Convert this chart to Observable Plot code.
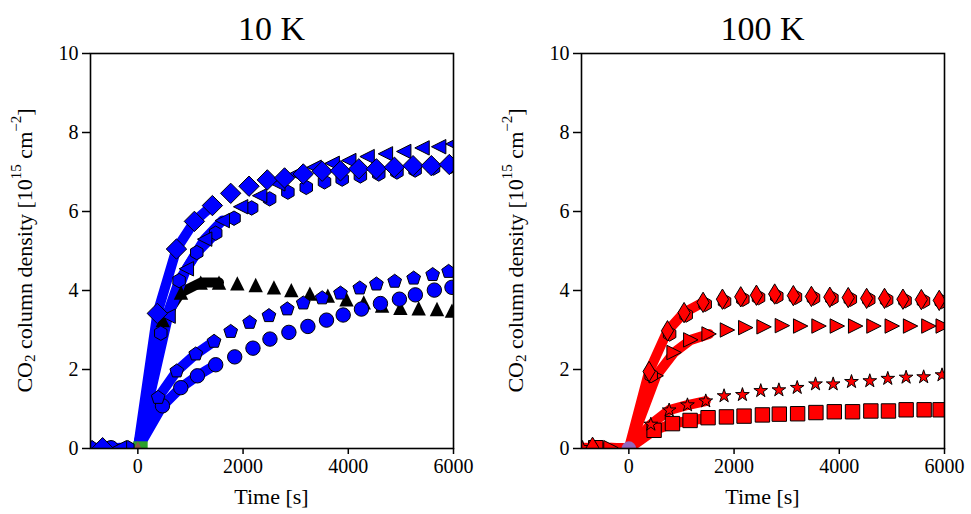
<!DOCTYPE html>
<html><head><meta charset="utf-8">
<script src="https://cdn.jsdelivr.net/npm/d3@7"></script>
<script src="https://cdn.jsdelivr.net/npm/@observablehq/plot@0.6"></script>
<style>
body{margin:0;background:#fff;}
#chart{position:relative;width:971px;height:514px;background:#fff;}
#chart svg{position:absolute;top:0;}
</style></head><body><div id="chart"></div>
<script>
// ---------- data ----------
const panelTitles = ["10 K", "100 K"];
const xTicks = [0, 2000, 4000, 6000];
const yTicks = [0, 2, 4, 6, 8, 10];
const xDomain = [-900, 6000];
const yDomain = [0, 10];
const xLabel = "Time [s]";

// 10 K panel
const k10_circle_t = [-510, 468, 816, 1132, 1480, 1841, 2188, 2511, 2871, 3232, 3586, 3903, 4250, 4611, 4972, 5275, 5636, 5971];
const k10_circle_v = [0.02, 1.08, 1.54, 1.84, 2.12, 2.32, 2.54, 2.77, 2.94, 3.09, 3.25, 3.38, 3.53, 3.67, 3.78, 3.89, 4.01, 4.08];
const k10_pentagon_t = [-870, 386, 740, 1101, 1449, 1765, 2125, 2492, 2840, 3144, 3504, 3852, 4219, 4535, 4882, 5243, 5604, 5907];
const k10_pentagon_v = [0.02, 1.29, 1.96, 2.39, 2.71, 2.96, 3.19, 3.36, 3.53, 3.68, 3.81, 3.93, 4.06, 4.16, 4.23, 4.31, 4.40, 4.48];
const k10_hexagon_t = [-190, 436, 784, 1120, 1480, 1828, 2163, 2505, 2852, 3201, 3548, 3884, 4230, 4580, 4925, 5270, 5620, 5960];
const k10_hexagon_v = [0.02, 2.92, 4.25, 4.96, 5.45, 5.83, 6.09, 6.32, 6.49, 6.61, 6.75, 6.82, 6.90, 6.95, 7.00, 7.05, 7.10, 7.15];
const k10_trileft_t = [-350, 575, 922, 1270, 1605, 1954, 2315, 2660, 3005, 3350, 3694, 4010, 4358, 4706, 5054, 5402, 5718, 5990];
const k10_trileft_v = [0.02, 3.35, 4.55, 5.30, 5.77, 6.12, 6.40, 6.70, 6.95, 7.12, 7.22, 7.29, 7.39, 7.46, 7.52, 7.61, 7.64, 7.71];
const k10_diamond_t = [-670, 370, 734, 1075, 1417, 1765, 2113, 2461, 2789, 3144, 3504, 3852, 4200, 4535, 4877, 5231, 5579, 5920];
const k10_diamond_v = [0.02, 3.42, 5.05, 5.75, 6.15, 6.46, 6.64, 6.80, 6.85, 6.95, 7.02, 7.03, 7.08, 7.08, 7.12, 7.16, 7.16, 7.19];
const k10_black_t = [474, 820, 1195, 1543, 1891, 2240, 2587, 2917, 3270, 3611, 3966, 4294, 4643, 4990, 5338, 5686, 5971];
const k10_black_v = [3.25, 3.95, 4.20, 4.20, 4.18, 4.14, 4.08, 4.01, 3.92, 3.87, 3.78, 3.70, 3.62, 3.56, 3.55, 3.53, 3.49];
const k10_origin_t = [50, 0];
const k10_origin_v = [0, 0];

// 100 K panel
const k100_square_t = [-630, 480, 829, 1164, 1506, 1855, 2190, 2539, 2860, 3208, 3556, 3905, 4252, 4600, 4935, 5271, 5613, 5917];
const k100_square_v = [0.02, 0.46, 0.63, 0.71, 0.78, 0.80, 0.82, 0.85, 0.87, 0.88, 0.91, 0.93, 0.93, 0.95, 0.95, 0.98, 0.98, 0.98];
const k100_star_t = [-880, 418, 766, 1114, 1462, 1810, 2159, 2507, 2852, 3200, 3548, 3884, 4232, 4580, 4922, 5270, 5604, 5953];
const k100_star_v = [0.02, 0.61, 0.97, 1.10, 1.20, 1.33, 1.36, 1.46, 1.48, 1.54, 1.63, 1.63, 1.69, 1.71, 1.77, 1.80, 1.81, 1.86];
const k100_triright_t = [-340, 520, 860, 1177, 1525, 1874, 2222, 2570, 2918, 3266, 3615, 3963, 4311, 4659, 5007, 5355, 5703, 5975];
const k100_triright_v = [0.02, 1.84, 2.43, 2.75, 2.90, 3.00, 3.06, 3.08, 3.11, 3.10, 3.10, 3.10, 3.10, 3.10, 3.10, 3.10, 3.10, 3.10];
const k100_hexagon_t = [425, 775, 1090, 1451, 1819, 2167, 2465, 2812, 3167, 3510, 3860, 4210, 4560, 4900, 5250, 5600, 5940];
const k100_hexagon_v = [1.85, 2.90, 3.38, 3.65, 3.72, 3.78, 3.82, 3.85, 3.83, 3.81, 3.80, 3.78, 3.77, 3.76, 3.74, 3.73, 3.72];
const k100_diamond_t = [-690, 385, 735, 1050, 1411, 1779, 2127, 2425, 2772, 3127, 3470, 3820, 4170, 4520, 4860, 5210, 5560, 5900];
const k100_diamond_v = [0.03, 1.95, 2.98, 3.44, 3.70, 3.78, 3.84, 3.88, 3.91, 3.87, 3.85, 3.83, 3.82, 3.80, 3.80, 3.78, 3.77, 3.75];
const k100_origin_t = [0];
const k100_origin_v = [0];

const fitPoints = 4; // thick line joins origin with the first points of each run

// ---------- marker shapes (matplotlib-like) ----------
function polySym(pts) {
  return {draw(ctx, size) {
    const s = Math.sqrt(size / Math.PI);
    pts.forEach(([x, y], i) => i ? ctx.lineTo(x * s, y * s) : ctx.moveTo(x * s, y * s));
    ctx.closePath();
  }};
}
function ring(n, radii) {
  const out = [];
  for (let k = 0; k < n; k++) {
    const a = -Math.PI / 2 + 2 * Math.PI * k / n, r = radii[k % radii.length];
    out.push([r * Math.cos(a), r * Math.sin(a)]);
  }
  return out;
}
const SYM = {
  circle: {draw(ctx, size) { const s = Math.sqrt(size / Math.PI); ctx.moveTo(s, 0); ctx.arc(0, 0, s, 0, 2 * Math.PI); }},
  square: polySym([[-1, -1], [1, -1], [1, 1], [-1, 1]]),
  diamond: polySym([[0, -1.414], [1.414, 0], [0, 1.414], [-1.414, 0]]),
  thindiamond: polySym([[0, -1.414], [0.85, 0], [0, 1.414], [-0.85, 0]]),
  pentagon: polySym(ring(5, [1])),
  hexagon: polySym(ring(6, [1])),
  star: polySym(ring(10, [1, 0.382])),
  triup: polySym([[0, -1], [1, 1], [-1, 1]]),
  trileft: polySym([[-1, 0], [1, -1], [1, 1]]),
  triright: polySym([[1, 0], [-1, -1], [-1, 1]])
};

const BLUE = "#0000ff", RED = "#ff0000";
const panels = [
  {
    title: panelTitles[0], left: 0, mL: 90, mR: 32,
    series: [
      {t: k10_black_t, v: k10_black_v, sym: "triup", fill: "black", line: "black", noEdge: true},
      {t: k10_circle_t, v: k10_circle_v, sym: "circle", fill: BLUE, line: BLUE},
      {t: k10_pentagon_t, v: k10_pentagon_v, sym: "pentagon", fill: BLUE, line: BLUE},
      {t: k10_hexagon_t, v: k10_hexagon_v, sym: "hexagon", fill: BLUE, line: BLUE},
      {t: k10_trileft_t, v: k10_trileft_v, sym: "trileft", fill: BLUE, line: BLUE},
      {t: k10_diamond_t, v: k10_diamond_v, sym: "diamond", fill: BLUE, line: BLUE}
    ],
    markerOrder: [0, 1, 2, 3, 4, 5],
    origin: [
      {t: k10_origin_t[0], v: k10_origin_v[0], sym: "square", fill: "#2ca02c"},
      {t: k10_origin_t[1], v: k10_origin_v[1], sym: "triup", fill: "#8c564b"}
    ]
  },
  {
    title: panelTitles[1], left: 486, mL: 95, mR: 27,
    series: [
      {t: k100_square_t, v: k100_square_v, sym: "square", fill: RED, line: RED},
      {t: k100_star_t, v: k100_star_v, sym: "star", fill: RED, line: RED},
      {t: k100_triright_t, v: k100_triright_v, sym: "triright", fill: RED, line: RED},
      {t: k100_hexagon_t, v: k100_hexagon_v, sym: "hexagon", fill: RED, line: null},
      {t: k100_diamond_t, v: k100_diamond_v, sym: "thindiamond", fill: RED, line: RED}
    ],
    markerOrder: [0, 1, 2, 3, 4],
    origin: [
      {t: k100_origin_t[0], v: k100_origin_v[0], sym: "circle", fill: "#9467bd"}
    ]
  }
];

const W = 485, H = 514, MT = 53, MB = 66;
const FONT = "'Liberation Serif', 'Times New Roman', serif";
const R = 7.2;
const chart = document.getElementById("chart");

for (const p of panels) {
  const marks = [];
  for (const s of p.series) {
    if (!s.line) continue;
    const pts = [];
    s.t.forEach((t, i) => { if (t < 0) pts.push({t, v: s.v[i]}); });
    pts.push({t: 0, v: 0});
    let n = 0;
    s.t.forEach((t, i) => { if (t > 0 && n < fitPoints) { pts.push({t, v: s.v[i]}); n++; } });
    marks.push(Plot.line(pts, {x: "t", y: "v", stroke: s.line, strokeWidth: 10, strokeLinejoin: "round", clip: true}));
  }
  for (const o of p.origin) {
    marks.push(Plot.dot([o], {x: "t", y: "v", symbol: SYM[o.sym], r: R, fill: o.fill, stroke: "none", clip: true}));
  }
  for (const idx of p.markerOrder) {
    const s = p.series[idx];
    const data = s.t.map((t, i) => ({t, v: s.v[i]}));
    marks.push(Plot.dot(data, {x: "t", y: "v", symbol: SYM[s.sym], r: R, fill: s.fill,
      stroke: s.noEdge ? "none" : "black", strokeWidth: 1, clip: true}));
  }
  marks.push(Plot.axisX({ticks: xTicks, tickSize: 6, tickPadding: 4, tickFormat: d => String(d), label: null, strokeWidth: 1.5}));
  marks.push(Plot.axisY({ticks: yTicks, tickSize: 8, tickPadding: 4, tickFormat: d => String(d), label: null, strokeWidth: 1.5}));
  marks.push(Plot.frame({stroke: "black", strokeWidth: 1.6}));

  const svg = Plot.plot({
    width: W, height: H,
    marginLeft: p.mL, marginRight: p.mR, marginTop: MT, marginBottom: MB,
    x: {domain: xDomain},
    y: {domain: yDomain},
    style: {fontFamily: FONT, fontSize: "20px", color: "black", background: "white", overflow: "visible"},
    marks
  });
  svg.style.left = p.left + "px";
  chart.appendChild(svg);

  const sel = d3.select(svg);
  const cx = (p.mL + (W - p.mR)) / 2;
  sel.append("text").attr("x", cx).attr("y", 40).attr("text-anchor", "middle")
    .attr("font-family", FONT).attr("font-size", 34).attr("fill", "black").text(p.title);
  sel.append("text").attr("x", cx).attr("y", 504).attr("text-anchor", "middle")
    .attr("font-family", FONT).attr("font-size", 22).attr("fill", "black").text(xLabel);
  const yl = sel.append("text")
    .attr("transform", `translate(${p.left ? 32 : 27},${(MT + H - MB) / 2}) rotate(-90)`)
    .attr("text-anchor", "middle").attr("dominant-baseline", "middle")
    .attr("font-family", FONT).attr("font-size", 22).attr("fill", "black");
  yl.append("tspan").text("CO");
  yl.append("tspan").attr("dy", 5).attr("font-size", 15).text("2");
  yl.append("tspan").attr("dy", -5).text(" column density [10");
  yl.append("tspan").attr("dy", -9).attr("font-size", 15).text("15");
  yl.append("tspan").attr("dy", 9).text(" cm");
  yl.append("tspan").attr("dy", -9).attr("font-size", 15).text("\u22122");
  yl.append("tspan").attr("dy", 9).text("]");
}
</script></body></html>
